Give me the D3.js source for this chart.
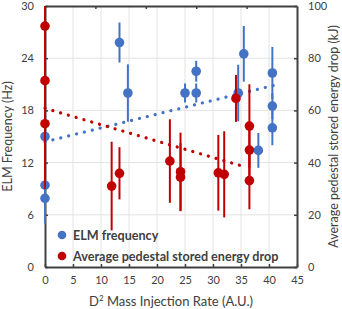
<!DOCTYPE html>
<html>
<head>
<meta charset="utf-8">
<script src="https://cdn.jsdelivr.net/npm/d3@7"></script>
<style>
body{margin:0;background:#fff;}
text{font-family:Lato,"Open Sans",sans-serif;fill:#404040;}
</style>
</head>
<body>
<div class="chart"></div>
<script>
// ELM frequency (left axis, Hz)
var elmX   = [0, 0, 0, 13.3, 14.8, 25, 27, 27, 34.5, 35.5, 38.1, 40.6, 40.6, 40.6];
var elmY   = [15, 9.4, 7.9, 25.8, 20, 20, 22.5, 20, 20, 24.5, 13.4, 22.3, 18.5, 16];
var elmErr = [0.5, 1.5, 2.9, 2.3, 3.3, 1.1, 1.2, 1.1, 3.25, 3.2, 2.0, 3.0, 1.5, 2.0];
// average pedestal stored energy drop (right axis, kJ)
var wX   = [0, 0, 0, 11.9, 13.3, 22.3, 24.2, 24.2, 30.95, 32, 34.1, 36.5, 36.5, 36.5];
var wY   = [92.3, 71.4, 54.9, 31, 35.9, 40.6, 36.5, 34.4, 36.1, 35.5, 64.6, 54, 44.8, 33.1];
var wErr = [8, 20, 25, 17, 10, 16, 15, 13, 14.5, 16.5, 9, 16, 10, 11];
// linear trend end points
var elmTrendX = [0, 41];
var elmTrendY = [14.4, 20.9];
var wTrendX = [0, 36];
var wTrendY = [60.8, 38.2];

var xTicks = [0, 5, 10, 15, 20, 25, 30, 35, 40, 45];
var yTicks = [0, 6, 12, 18, 24, 30];
var y2Ticks = [0, 20, 40, 60, 80, 100];

var W = 342, H = 309;
var m = {left:45, right:45, top:6, bottom:42};
var blue = "#4472C4", red = "#C00000", axisCol = "#404040";

var svg = d3.select("div.chart").append("svg")
    .attr("width", W).attr("height", H);

var x = d3.scaleLinear().domain([0,45]).range([m.left, W-m.right]);
var xTop = d3.scaleLinear().domain([0,50]).range([m.left, W-m.right]);
var y = d3.scaleLinear().domain([0,30]).range([H-m.bottom, m.top]);
var y2 = d3.scaleLinear().domain([0,100]).range([H-m.bottom, m.top]);

// gridlines
svg.append("g").selectAll("line").data(xTicks.slice(1,-1)).enter().append("line")
    .attr("x1", function(d){return x(d);}).attr("x2", function(d){return x(d);})
    .attr("y1", y(0)).attr("y2", y(30))
    .attr("stroke", "#e3e3e3").attr("stroke-width", 1);
svg.append("g").selectAll("line").data(yTicks.slice(1,-1)).enter().append("line")
    .attr("y1", function(d){return y(d);}).attr("y2", function(d){return y(d);})
    .attr("x1", x(0)).attr("x2", x(45))
    .attr("stroke", "#e3e3e3").attr("stroke-width", 1);

// axes
var gx = svg.append("g").attr("transform", "translate(0,"+y(0)+")")
    .call(d3.axisBottom(x).tickValues(xTicks).tickSizeInner(-3).tickSizeOuter(0).tickPadding(9));
var gxt = svg.append("g").attr("transform", "translate(0,"+y(30)+")")
    .call(d3.axisTop(xTop).tickValues([10,20,30,40]).tickSizeInner(-3).tickSizeOuter(0).tickFormat(""));
var gy = svg.append("g").attr("transform", "translate("+x(0)+",0)")
    .call(d3.axisLeft(y).tickValues(yTicks).tickSizeInner(-3).tickSizeOuter(0).tickPadding(11));
var gy2 = svg.append("g").attr("transform", "translate("+x(45)+",0)")
    .call(d3.axisRight(y2).tickValues(y2Ticks).tickSizeInner(-3).tickSizeOuter(0).tickPadding(11));
[gx, gxt, gy, gy2].forEach(function(g){
    g.select(".domain").attr("stroke", axisCol).attr("stroke-width", 2);
    g.selectAll(".tick line").attr("stroke", axisCol).attr("stroke-width", 1.5);
    g.selectAll(".tick text").style("font-size", "11px").attr("fill", axisCol)
        .style("font-family", "Lato, sans-serif");
});

// trend lines
var lineElm = d3.line().x(function(d){return x(d[0]);}).y(function(d){return y(d[1]);});
var lineW = d3.line().x(function(d){return x(d[0]);}).y(function(d){return y2(d[1]);});
svg.append("path").datum(d3.zip(elmTrendX, elmTrendY)).attr("d", lineElm)
    .attr("fill", "none").attr("stroke", blue).attr("stroke-width", 3.2)
    .attr("stroke-linecap", "round").attr("stroke-dasharray", "0.1 8");
svg.append("path").datum(d3.zip(wTrendX, wTrendY)).attr("d", lineW)
    .attr("fill", "none").attr("stroke", red).attr("stroke-width", 3.2)
    .attr("stroke-linecap", "round").attr("stroke-dasharray", "0.1 8");

// ELM series
var elm = d3.range(elmX.length).map(function(i){return {x:elmX[i], y:elmY[i], e:elmErr[i]};});
var ws = d3.range(wX.length).map(function(i){return {x:wX[i], y:wY[i], e:wErr[i]};});

svg.append("g").selectAll("line").data(elm).enter().append("line")
    .attr("x1", function(d){return x(d.x);}).attr("x2", function(d){return x(d.x);})
    .attr("y1", function(d){return y(d.y+d.e);}).attr("y2", function(d){return y(d.y-d.e);})
    .attr("stroke", blue).attr("stroke-width", 2);
svg.append("g").selectAll("circle").data(elm).enter().append("circle")
    .attr("cx", function(d){return x(d.x);}).attr("cy", function(d){return y(d.y);})
    .attr("r", 4.8).attr("fill", blue);

// energy drop series
svg.append("g").selectAll("line").data(ws).enter().append("line")
    .attr("x1", function(d){return x(d.x);}).attr("x2", function(d){return x(d.x);})
    .attr("y1", function(d){return y2(Math.min(100, d.y+d.e));}).attr("y2", function(d){return y2(d.y-d.e);})
    .attr("stroke", red).attr("stroke-width", 2);
svg.append("g").selectAll("circle").data(ws).enter().append("circle")
    .attr("cx", function(d){return x(d.x);}).attr("cy", function(d){return y2(d.y);})
    .attr("r", 4.8).attr("fill", red);

// axis titles
svg.append("text").attr("transform", "translate(12,"+((y(0)+y(30))/2)+") rotate(-90)")
    .attr("text-anchor", "middle").style("font-size", "12.5px").text("ELM Frequency (Hz)");
svg.append("text").attr("transform", "translate(338,"+((y(0)+y(30))/2)+") rotate(-90)")
    .attr("text-anchor", "middle").style("font-size", "12.5px")
    .text("Average pedestal stored energy drop (kJ)");
var xt = svg.append("text").attr("x", (x(0)+x(45))/2).attr("y", 306)
    .attr("text-anchor", "middle").style("font-size", "13px");
xt.append("tspan").text("D");
xt.append("tspan").attr("dy", -5).style("font-size", "8px").text("2");
xt.append("tspan").attr("dy", 5).text(" Mass Injection Rate (A.U.)");

// legend
var legend = [{name:"ELM frequency", col:blue}, {name:"Average pedestal stored energy drop", col:red}];
var lg = svg.append("g").selectAll("g").data(legend).enter().append("g")
    .attr("transform", function(d,i){return "translate(62,"+(235+i*21)+")";});
lg.append("circle").attr("r", 4.3).attr("fill", function(d){return d.col;});
lg.append("text").attr("x", 11).attr("y", 4.5).style("font-size", "12.6px")
    .style("font-weight", "bold").attr("fill", axisCol)
    .text(function(d){return d.name;});
</script>
</body>
</html>
